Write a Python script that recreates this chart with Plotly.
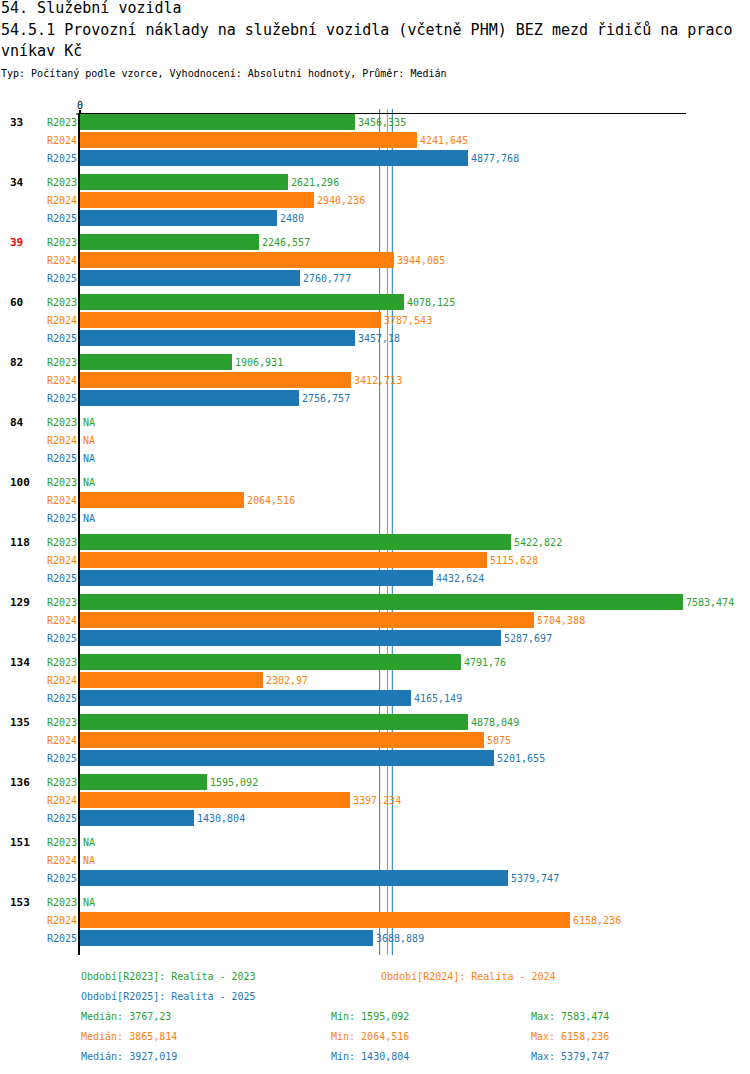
import numpy as np
import plotly.graph_objects as go

# data
groups = ["33", "34", "39", "60", "82", "84", "100", "118", "129", "134", "135", "136", "151", "153"]
highlight = ["39"]
series = ["R2023", "R2024", "R2025"]
series_names = ["Realita - 2023", "Realita - 2024", "Realita - 2025"]
r2023 = [3456.335, 2621.296, 2246.557, 4078.125, 1906.931, None, None,
         5422.822, 7583.474, 4791.76, 4878.049, 1595.092, None, None]
r2024 = [4241.645, 2940.236, 3944.085, 3787.543, 3412.713, None, 2064.516,
         5115.628, 5704.388, 2302.97, 5075, 3397.234, None, 6158.236]
r2025 = [4877.768, 2480, 2760.777, 3457.18, 2756.757, None, None,
         4432.624, 5287.697, 4165.149, 5201.655, 1430.804, 5379.747, 3688.889]
values = [r2023, r2024, r2025]
colors = ["#2ca02c", "#ff7f0e", "#1f77b4"]

FONT = "DejaVu Sans Mono"
W, H = 750, 1074
L, R, T, B = 80, 64, 114, 119
pw = W - L - R
ph = H - T - B


def fmt(v):
    s = f"{v:.3f}".rstrip("0").rstrip(".")
    return s.replace(".", ",")


# row positions: 3 bars per group, a small gap between groups
step = 10 / 3
def ypos(g, k):
    return g * step + k


fig = go.Figure()
ann = []

for k, (name, vals, col) in enumerate(zip(series, values, colors)):
    ys = [ypos(g, k) for g in range(len(groups))]
    fig.add_trace(go.Bar(
        x=vals, y=ys, orientation="h", width=0.89,
        marker=dict(color=col, line=dict(width=0)),
        hoverinfo="skip", showlegend=False))
    for v, y in zip(vals, ys):
        # value label just right of the bar end (NA at zero)
        ann.append(dict(xref="x", yref="y", x=v if v is not None else 0, y=y,
                        xanchor="left", xshift=1,
                        text=fmt(v) if v is not None else "NA", showarrow=False,
                        font=dict(family=FONT, size=10, color=col)))
        ann.append(dict(xref="paper", yref="y", x=0, y=y, xanchor="right",
                        xshift=-1, text=name, showarrow=False,
                        font=dict(family=FONT, size=10, color=col)))

for g, lab in enumerate(groups):
    ann.append(dict(xref="paper", yref="y", x=0, y=ypos(g, 0), xanchor="left",
                    xshift=-72, text="<b>%s</b>" % lab, showarrow=False,
                    font=dict(family=FONT, size=11,
                              color="#ff0000" if lab in highlight else "black")))

# medians / min / max
stats = []
for vals in values:
    v = np.array([x for x in vals if x is not None])
    stats.append((float(np.median(v)), float(v.min()), float(v.max())))

shapes = []
for (med, _, _), col in zip(stats, colors):
    shapes.append(dict(type="line", xref="x", yref="paper", x0=med, x1=med,
                       y0=0, y1=1 + 5 / ph, layer="below",
                       line=dict(color=col, width=1)))
# little overhang of the axes at the origin
shapes.append(dict(type="line", xref="paper", yref="paper", x0=0, x1=0,
                   y0=1, y1=1 + 4 / ph, line=dict(color="black", width=2)))
shapes.append(dict(type="line", xref="paper", yref="paper", x0=-4 / pw, x1=0,
                   y0=1, y1=1, line=dict(color="black", width=1)))

# titles
def top_text(txt, ypix, size, color="black"):
    ann.append(dict(xref="paper", yref="paper", x=0, y=1, xanchor="left",
                    yanchor="middle", xshift=-L - 1, yshift=T - ypix, text=txt,
                    showarrow=False, font=dict(family=FONT, size=size, color=color)))

top_text("54. Služební vozidla", 8, 15)
top_text("54.5.1 Provozní náklady na služební vozidla (včetně PHM) BEZ mezd řidičů na praco", 30, 15)
top_text("vníkav Kč", 51, 15)
top_text("Typ: Počítaný podle vzorce, Vyhodnocení: Absolutní hodnoty, Průměr: Medián", 73, 10)

# bottom legend
def bottom_text(txt, xpix, ypix, color):
    ann.append(dict(xref="paper", yref="paper", x=(xpix - L) / pw, y=0,
                    xanchor="left", yanchor="middle", xshift=-1,
                    yshift=-(ypix - (H - B)),
                    text=txt, showarrow=False,
                    font=dict(family=FONT, size=10, color=color)))

bottom_text("Období[%s]: %s" % (series[0], series_names[0]), 80, 976, colors[0])
bottom_text("Období[%s]: %s" % (series[1], series_names[1]), 380, 976, colors[1])
bottom_text("Období[%s]: %s" % (series[2], series_names[2]), 80, 996, colors[2])
for i, ((med, mn, mx), col) in enumerate(zip(stats, colors)):
    yp = 1016 + i * 20
    bottom_text("Medián: " + fmt(med), 80, yp, col)
    bottom_text("Min: " + fmt(mn), 330, yp, col)
    bottom_text("Max: " + fmt(mx), 530, yp, col)

ymax = ypos(len(groups) - 1, 2) + 17 / 18
fig.update_layout(
    width=W, height=H,
    margin=dict(l=L, r=R, t=T, b=B, pad=0),
    paper_bgcolor="white", plot_bgcolor="white",
    barmode="overlay", bargap=0,
    xaxis=dict(range=[0, 7620], side="top", showgrid=False, zeroline=False,
               showline=True, linecolor="black", linewidth=1,
               tickvals=[0], ticktext=["0"], ticks="", ticklen=4,
               tickcolor="black", tickfont=dict(family=FONT, size=10, color="black"),
               fixedrange=True),
    yaxis=dict(range=[ymax, -8 / 18], showgrid=False, zeroline=False,
               showline=True, linecolor="black", linewidth=2,
               showticklabels=False, ticks="", fixedrange=True),
    annotations=ann, shapes=shapes,
    font=dict(family=FONT),
)

fig.write_html("out.html", post_script="document.body.style.margin='0';",
               config={"displayModeBar": False})
